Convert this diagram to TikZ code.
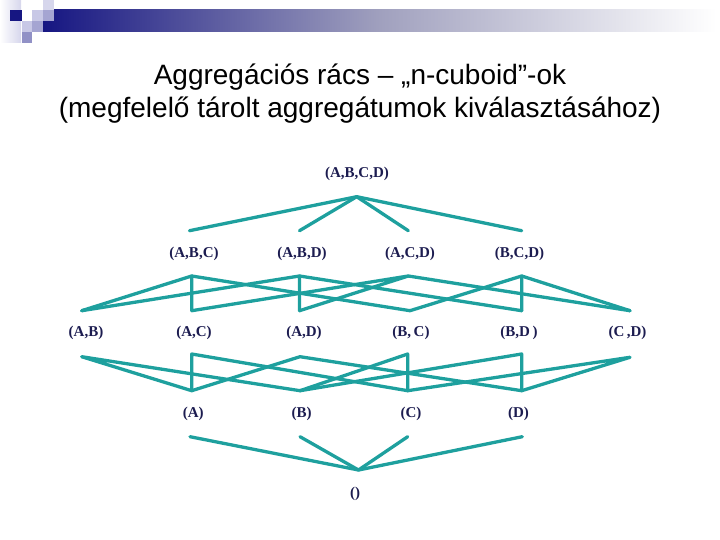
\documentclass[tikz,border=0pt]{standalone}
\usepackage{fontspec}
\setmainfont{Liberation Serif}
\newfontfamily\titlefont{Liberation Sans}
\definecolor{lat}{RGB}{30,160,158}
\definecolor{lab}{RGB}{28,28,80}
\definecolor{navy}{RGB}{22,22,130}
\definecolor{lavA}{RGB}{214,214,236}
\definecolor{lavB}{RGB}{200,200,230}
\definecolor{lavC}{RGB}{165,165,210}
\definecolor{lavD}{RGB}{145,145,198}
\definecolor{barmid}{RGB}{160,160,190}
\tikzset{
  lbl/.style={font=\fontsize{15}{17}\selectfont\bfseries, text=lab, inner sep=0pt},
  ttl/.style={font=\titlefont\fontsize{28}{33}\selectfont, text=black, inner sep=0pt, anchor=base},
  edge/.style={draw=lat, line width=3.3pt, line cap=round, line join=round},
}
\begin{document}
\begin{tikzpicture}[x=1pt,y=-1pt]
\useasboundingbox (0,0) rectangle (720,540);
% decoration
\shade[left color=white, right color=lavA] (0,0) rectangle (21,43);
\shade[left color=navy, right color=white, middle color=barmid] (43,10) rectangle (716,32);
\fill[navy] (10,10) rectangle (21.5,21.5);
\fill[lavB] (32,10) rectangle (43,21.5);
\fill[lavC] (43,10) rectangle (54,21.5);
\fill[lavA] (43,0) rectangle (54,10);
\fill[lavB] (21.5,21.5) rectangle (32,32);
\fill[lavC] (32,21.5) rectangle (43,32);
\fill[lavD] (21.5,32) rectangle (32,43);
% title
\node[ttl] (t1) at (360,85) {Aggregációs rács – „n-cuboid”-ok};
\node[ttl] (t2) at (360,118) {(megfelelő tárolt aggregátumok kiválasztásához)};
% labels
\node[lbl] (ABCD) at (357,174) {(A,B,C,D)};
\node[lbl] (ABC) at (194,254) {(A,B,C)};
\node[lbl] (ABD) at (302,254) {(A,B,D)};
\node[lbl] (ACD) at (410,254) {(A,C,D)};
\node[lbl] (BCD) at (519.5,254) {(B,C,D)};
\node[lbl] (AB) at (86,333) {(A,B)};
\node[lbl] (AC) at (194,333) {(A,C)};
\node[lbl] (AD) at (304,333) {(A,D)};
\node[lbl] (BC) at (411,333) {(B,\,C)};
\node[lbl] (BD) at (519,333) {(B,D\,)};
\node[lbl] (CD) at (627.5,333) {(C\,,D)};
\node[lbl] (A) at (193.3,414) {(A)};
\node[lbl] (B) at (301.7,414) {(B)};
\node[lbl] (C) at (411,414) {(C)};
\node[lbl] (D) at (518.5,414) {(D)};
\node[lbl] (E) at (355,494) {()};
% connector end points
\coordinate (ABCDb) at (356.7,196.7);
\coordinate (ABCt) at (189.5,230.7);
\coordinate (ABDt) at (299.5,230.7);
\coordinate (ACDt) at (408.3,230.7);
\coordinate (BCDt) at (521.7,230.7);
\coordinate (ABCb) at (191.7,276);
\coordinate (ABDb) at (299.5,276);
\coordinate (ACDb) at (408.3,276);
\coordinate (BCDb) at (521.7,276);
\coordinate (ABt) at (81.7,310.7);
\coordinate (ACt) at (191.7,310.7);
\coordinate (ADt) at (299.5,310.7);
\coordinate (BCt) at (410,310.7);
\coordinate (BDt) at (521.7,310.7);
\coordinate (CDt) at (630,310.7);
\coordinate (ABb) at (81.7,356.7);
\coordinate (ACb) at (191.7,354);
\coordinate (ADb) at (300,356.7);
\coordinate (BCb) at (407.7,354);
\coordinate (BDb) at (521.7,354);
\coordinate (CDb) at (630,357.3);
\coordinate (At) at (191.7,390.7);
\coordinate (Bt) at (300,390.7);
\coordinate (Ct) at (407.7,390.7);
\coordinate (Dt) at (521.7,390.7);
\coordinate (Ab) at (190,436.7);
\coordinate (Bb) at (300,436.7);
\coordinate (Cb) at (407.7,436.7);
\coordinate (Db) at (522.3,436.7);
\coordinate (Et) at (358.5,470);
% connectors
\draw[edge] (ABCt) -- (ABCDb) -- (BCDt);
\draw[edge] (ABDt) -- (ABCDb) -- (ACDt);
\draw[edge] (ABt) -- (ABCb) -- (ACt);
\draw[edge] (ABCb) -- (BCt);
\draw[edge] (ABt) -- (ABDb) -- (ADt);
\draw[edge] (ABDb) -- (BDt);
\draw[edge] (ACt) -- (ACDb) -- (ADt);
\draw[edge] (ACDb) -- (CDt);
\draw[edge] (BCt) -- (BCDb) -- (BDt);
\draw[edge] (BCDb) -- (CDt);
\draw[edge] (At) -- (ABb) -- (Bt);
\draw[edge] (At) -- (ACb) -- (Ct);
\draw[edge] (At) -- (ADb) -- (Dt);
\draw[edge] (Bt) -- (BCb) -- (Ct);
\draw[edge] (Bt) -- (BDb) -- (Dt);
\draw[edge] (Ct) -- (CDb) -- (Dt);
\draw[edge] (Ab) -- (Et) -- (Db);
\draw[edge] (Bb) -- (Et) -- (Cb);
\end{tikzpicture}
\end{document}
